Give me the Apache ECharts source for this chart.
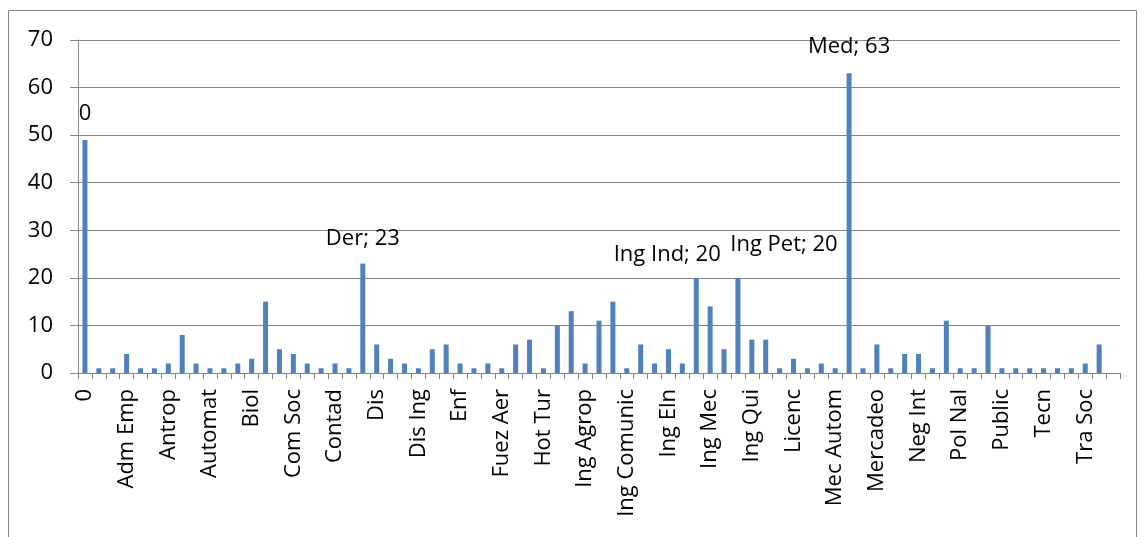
<!DOCTYPE html>
<html style="height: 100%">
<head>
<meta charset="utf-8">
</head>
<body style="height: 100%; margin: 0; background: #fff">
<div id="container" style="width: 1146px; height: 537px"></div>
<script type="text/javascript" src="https://cdn.jsdelivr.net/npm/echarts@6/dist/echarts.min.js"></script>
<script type="text/javascript">
// program names (only every third one is printed on the axis)
var categories = [
    '0', '', '', 'Adm Emp', '', '', 'Antrop', '', '', 'Automat',
    '', '', 'Biol', '', '', 'Com Soc', '', '', 'Contad', '',
    'Der', 'Dis', '', '', 'Dis Ing', '', '', 'Enf', '', '',
    'Fuez Aer', '', '', 'Hot Tur', '', '', 'Ing Agrop', '', '', 'Ing Comunic',
    '', '', 'Ing Eln', '', 'Ing Ind', 'Ing Mec', '', 'Ing Pet', 'Ing Qui', '',
    '', 'Licenc', '', '', 'Mec Autom', 'Med', '', 'Mercadeo', '', '',
    'Neg Int', '', '', 'Pol Nal', '', '', 'Public', '', '', 'Tecn',
    '', '', 'Tra Soc', '', ''
];
var values = [
    49, 1, 1, 4, 1, 1, 2, 8, 2, 1,
    1, 2, 3, 15, 5, 4, 2, 1, 2, 1,
    23, 6, 3, 2, 1, 5, 6, 2, 1, 2,
    1, 6, 7, 1, 10, 13, 2, 11, 15, 1,
    6, 2, 5, 2, 20, 14, 5, 20, 7, 7,
    1, 3, 1, 2, 1, 63, 1, 6, 1, 4,
    4, 1, 11, 1, 1, 10, 1, 1, 1, 1,
    1, 1, 2, 6, null
];
// bars that carry a data label
var labelled = [0, 20, 44, 47, 55];

var labelOffsets = {0: [0, -10], 20: [0, -9], 44: [-29, -7], 47: [46, -17], 55: [0, -11]};
var font = '"Open Sans", sans-serif';
var gray = '#868686';

var seriesData = values.map(function (v, i) {
    if (labelled.indexOf(i) < 0) return v;
    return {
        value: v,
        label: {
            show: true,
            position: 'top',
            offset: labelOffsets[i],
            formatter: i === 0 ? '{b}' : '{b}; {c}',
            color: '#000',
            fontSize: 22,
            fontFamily: font
        }
    };
});

var dom = document.getElementById('container');
var myChart = echarts.init(dom);
var option = {
    animation: false,
    backgroundColor: '#fff',
    graphic: [{
        type: 'rect',
        shape: {x: 8.5, y: 10.5, width: 1128, height: 560},
        style: {fill: 'none', stroke: gray, lineWidth: 1},
        silent: true
    }],
    grid: {left: 78, right: 26, top: 40, bottom: 164},
    xAxis: {
        type: 'category',
        data: categories,
        axisLine: {lineStyle: {color: gray, width: 1}},
        axisTick: {show: true, interval: 0, length: 6, lineStyle: {color: gray}},
        axisLabel: {
            interval: 2,
            rotate: 90,
            margin: 16,
            color: '#000',
            fontSize: 22,
            fontFamily: font
        }
    },
    yAxis: {
        type: 'value',
        min: 0,
        max: 70,
        interval: 10,
        axisLine: {show: true, lineStyle: {color: gray, width: 1}},
        axisTick: {show: true, inside: false, length: 8, lineStyle: {color: gray}},
        splitLine: {lineStyle: {color: gray, width: 1}},
        axisLabel: {color: '#000', fontSize: 22, fontFamily: font, margin: 25}
    },
    series: [{
        type: 'bar',
        data: seriesData,
        barWidth: 5,
        itemStyle: {color: '#4F81BD'}
    }]
};
myChart.setOption(option);
</script>
</body>
</html>
